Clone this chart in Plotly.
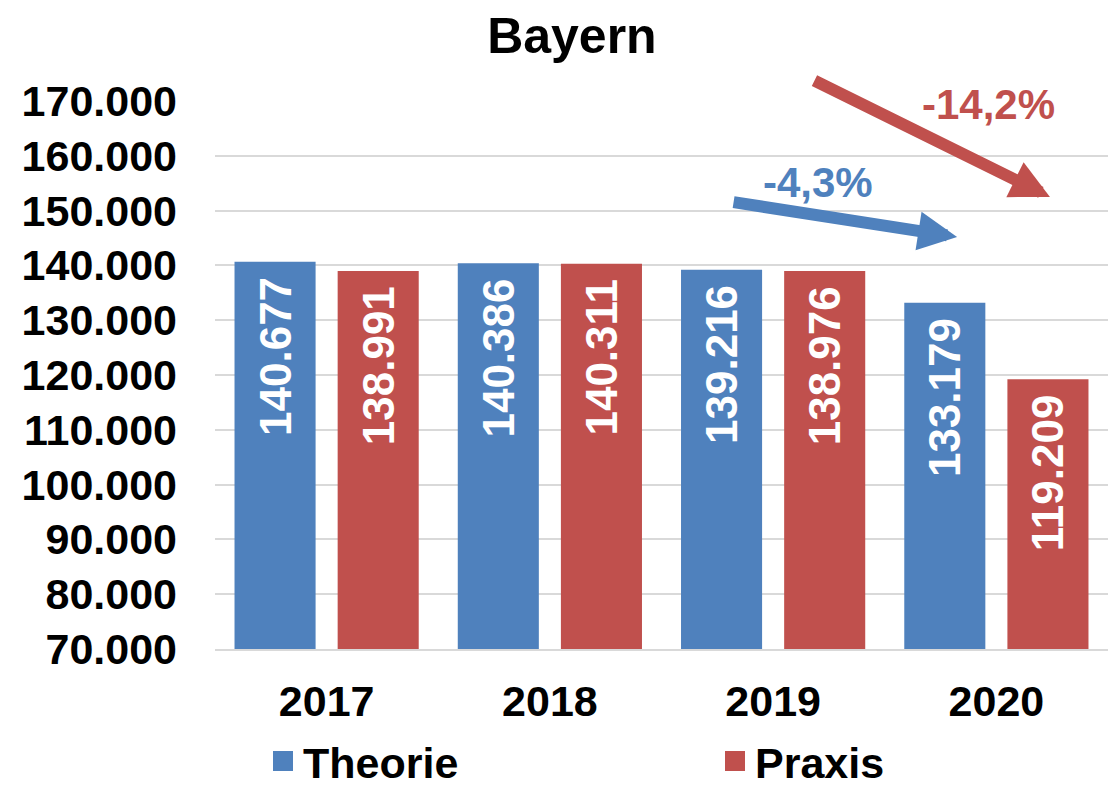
import plotly.graph_objects as go

years = ["2017", "2018", "2019", "2020"]
theorie = [140677, 140386, 139216, 133179]
praxis = [138991, 140311, 138976, 119209]
series_names = ["Theorie", "Praxis"]
colors = ["#4F81BD", "#C0504D"]
change_labels = ["-4,3%", "-14,2%"]

FONT = "Arial, Liberation Sans, sans-serif"

fig = go.Figure()
for name, vals, col in zip(series_names, [theorie, praxis], colors):
    fig.add_trace(go.Bar(
        x=years, y=vals, name=name, showlegend=False,
        marker=dict(color=col, line=dict(width=0)),
        texttemplate="%{y:,d}\u00a0", textposition="inside",
        insidetextanchor="end", textangle=-90,
        textfont=dict(family=FONT, size=44, color="white", weight="bold"),
        constraintext="none",
    ))
# legend entries (square swatches), one legend box per series
for name, col, lg in zip(series_names, colors, ["legend", "legend2"]):
    fig.add_trace(go.Scatter(
        x=[None], y=[None], mode="markers", name=name, showlegend=True, legend=lg,
        marker=dict(symbol="square", size=16, color=col, line=dict(color=col, width=4)),
    ))

legend_common = dict(orientation="h", xanchor="left", xref="container",
                     y=25 / 786, yanchor="middle", yref="container",
                     bgcolor="rgba(0,0,0,0)",
                     font=dict(family=FONT, size=43, color="black", weight="bold"),
                     itemclick=False)

fig.update_layout(
    width=1117, height=786,
    margin=dict(l=215, r=9, t=101, b=137, autoexpand=False),
    paper_bgcolor="white", plot_bgcolor="white",
    separators=",.",
    barmode="group", bargap=0.076, bargroupgap=0.214,
    title=dict(text="<b>Bayern</b>", x=0.512, xanchor="center", y=0.955, yanchor="middle",
               font=dict(family=FONT, size=50, color="black")),
    font=dict(family=FONT, color="black"),
    showlegend=True,
    legend=dict(x=263 / 1117, **legend_common),
    legend2=dict(x=715 / 1117, **legend_common),
    xaxis=dict(showline=True, linecolor="#d9d9d9", linewidth=2, ticks="",
               tickfont=dict(family=FONT, size=43, color="black", weight="bold"),
               ticklabelstandoff=13),
    yaxis=dict(range=[70000, 170000], dtick=10000, tickformat=",d",
               showgrid=True, gridcolor="#d9d9d9", gridwidth=2, zeroline=False,
               showline=False, ticks="",
               tickfont=dict(family=FONT, size=43, color="black", weight="bold"),
               ticklabelstandoff=37),
)

# trend arrows
arrows = [
    dict(x=0.831, y=0.752, ax=-225, ay=-35, color=colors[0]),
    dict(x=0.935, y=0.825, ax=-237, ay=-117, color=colors[1]),
]
for a in arrows:
    fig.add_annotation(xref="paper", yref="paper", x=a["x"], y=a["y"],
                       ax=a["ax"], ay=a["ay"], axref="pixel", ayref="pixel",
                       text="", showarrow=True, arrowhead=2, arrowsize=0.65,
                       arrowwidth=12, arrowcolor=a["color"], standoff=0)

fig.add_annotation(xref="paper", yref="paper", x=(818 - 215) / 893, y=(649 - 182) / 548,
                   xanchor="center", yanchor="middle",
                   text="<b>" + change_labels[0] + "</b>", showarrow=False,
                   font=dict(family=FONT, size=42, color=colors[0]))
fig.add_annotation(xref="paper", yref="paper", x=(988 - 215) / 893, y=(649 - 104) / 548,
                   xanchor="center", yanchor="middle",
                   text="<b>" + change_labels[1] + "</b>", showarrow=False,
                   font=dict(family=FONT, size=42, color=colors[1]))

fig.write_html("out.html", config=dict(displayModeBar=False),
               post_script="document.body.style.margin='0';")
